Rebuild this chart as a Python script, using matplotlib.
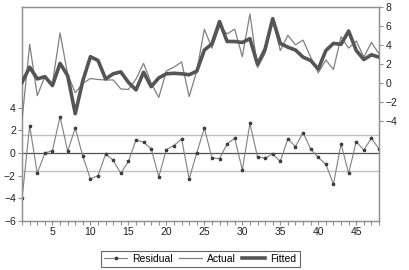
import matplotlib
matplotlib.use("Agg")
import matplotlib.pyplot as plt

plt.rcParams['font.family'] = ['Liberation Sans', 'DejaVu Sans']

obs = list(range(1, 49))

residual = [-4.0, 2.4, -1.8, 0.0, 0.2, 3.2, 0.15, 2.2, -0.3, -2.3,
            -2.0, -0.1, -0.65, -1.8, -0.75, 1.15, 0.95, 0.35, -2.1, 0.3,
            0.65, 1.25, -2.3, 0.0, 2.2, -0.45, -0.5, 0.8, 1.3, -1.5,
            2.6, -0.35, -0.45, -0.1, -0.75, 1.25, 0.55, 1.8, 0.35, -0.4,
            -1.0, -2.75, 0.8, -1.8, 1.0, 0.25, 1.3, 0.35]

actual = [-3.8, 4.1, -1.3, 0.7, 0.0, 5.3, 0.95, -1.0, 0.0, 0.5,
          0.4, 0.35, 0.35, -0.6, -0.65, 0.45, 2.1, 0.0, -1.5, 1.3,
          1.7, 2.25, -1.4, 1.27, 5.7, 3.7, 6.0, 5.2, 5.7, 2.8,
          7.3, 1.65, 3.15, 6.7, 3.45, 5.05, 4.05, 4.55, 2.75, 1.1,
          2.45, 1.45, 4.9, 3.7, 4.45, 2.75, 4.3, 3.1]

fitted = [0.1, 1.7, 0.46, 0.7, -0.24, 2.1, 0.8, -3.2, 0.28, 2.8,
          2.4, 0.46, 1.0, 1.2, 0.1, -0.7, 1.16, -0.35, 0.57, 1.0,
          1.05, 1.0, 0.9, 1.27, 3.5, 4.15, 6.5, 4.4, 4.4, 4.3,
          4.7, 2.0, 3.6, 6.8, 4.2, 3.8, 3.5, 2.75, 2.4, 1.5,
          3.45, 4.2, 4.1, 5.5, 3.45, 2.5, 3.0, 2.75]

se_band = 1.6

fig = plt.figure(figsize=(4.09, 2.70), dpi=100)
ax = fig.add_axes([0.054, 0.1815, 0.8727, 0.7925])
ax2 = ax.twinx()

frame = '#909090'

# residual panel on the left axis
ax.axhline(0, color='#505050', lw=0.9, zorder=1)
ax.axhline(se_band, color='#c0c0c0', lw=1.0, zorder=1)
ax.axhline(-se_band, color='#c0c0c0', lw=1.0, zorder=1)
ax.plot(obs, residual, color='#808080', lw=0.8, marker='*', ms=2.4,
        mfc='#404040', mec='#404040', label='Residual', zorder=3)

# actual / fitted on the right axis
ax2.plot(obs, actual, color='#808080', lw=0.9, label='Actual', zorder=3)
ax2.plot(obs, fitted, color='#555555', lw=2.6, label='Fitted', zorder=4)

ax.set_xlim(1, 48)
ax.set_ylim(-6, 12.86)
ax.set_yticks([-6, -4, -2, 0, 2, 4])
ax2.set_ylim(-14.5, 8.03)
ax2.set_yticks([-4, -2, 0, 2, 4, 6, 8])
ax.set_xticks([5, 10, 15, 20, 25, 30, 35, 40, 45])
ax.set_xticks(obs, minor=True)

for a in (ax, ax2):
    for s in a.spines.values():
        s.set_color(frame)
        s.set_linewidth(0.9)
    a.tick_params(axis='both', which='both', direction='out', length=3,
                  width=0.8, color=frame, labelsize=7.5, pad=1.5,
                  labelcolor='#202020')
ax.tick_params(axis='x', which='minor', length=3)

h1, l1 = ax.get_legend_handles_labels()
h2, l2 = ax2.get_legend_handles_labels()
leg = fig.legend(h1 + h2, l1 + l2, loc='center', ncol=3,
                 bbox_to_anchor=(0.49, 0.0407), frameon=True, fancybox=False,
                 fontsize=7.5, handlelength=2.2, handletextpad=0.5,
                 columnspacing=0.6, borderpad=0.3, borderaxespad=0)
leg.get_frame().set_edgecolor('#404040')
leg.get_frame().set_linewidth(0.8)

fig.savefig('out.png', dpi=100)
